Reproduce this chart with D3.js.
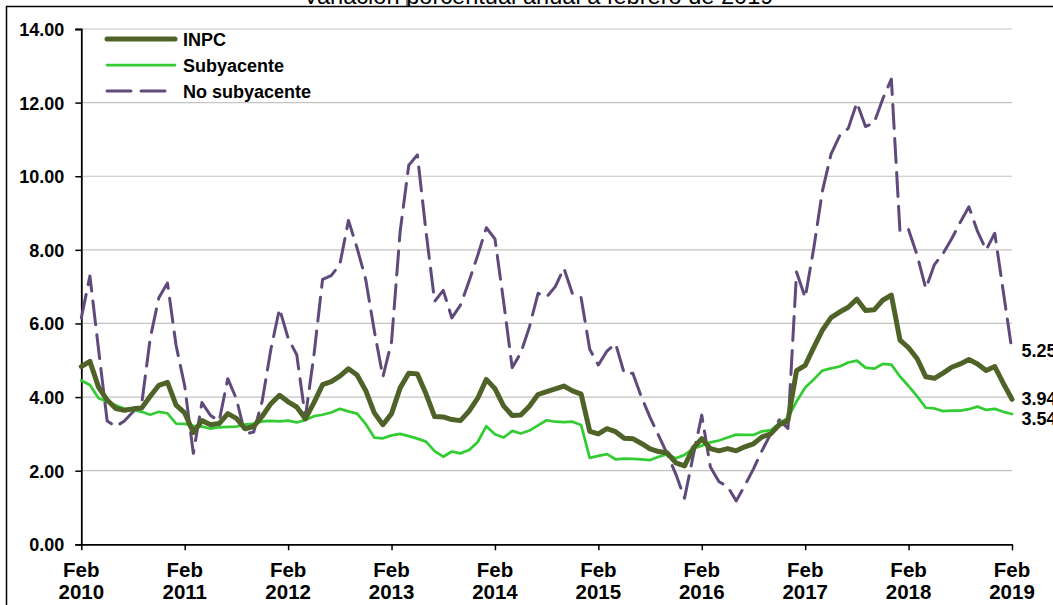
<!DOCTYPE html>
<html>
<head>
<meta charset="utf-8">
<script src="https://cdn.jsdelivr.net/npm/d3@7"></script>
<style>
  html, body { margin: 0; padding: 0; background: #fff; }
  svg { display: block; font-family: "Liberation Sans", Arial, sans-serif; }
</style>
</head>
<body>
<svg id="chart" width="1053" height="605"></svg>
<script>
// ---------------- DATA (Feb 2010 .. Feb 2019, monthly) ----------------
const startMonth = "2010-02";
const endMonth = "2019-02";
const seriesNames = ["INPC", "Subyacente", "No subyacente"];
const titleText = "Variación porcentual anual a febrero de 2019";
const yTicks = [0, 2, 4, 6, 8, 10, 12, 14];
const tickMonthLabel = "Feb";
const tickYears = ["2010","2011","2012","2013","2014","2015","2016","2017","2018","2019"];

const inpc = [
  4.83, 4.97, 4.27, 3.92, 3.69, 3.64, 3.68, 3.70, 4.02, 4.32, 4.40,
  3.78, 3.57, 3.04, 3.36, 3.25, 3.28, 3.55, 3.42, 3.14, 3.20, 3.48, 3.82,
  4.05, 3.87, 3.73, 3.41, 3.85, 4.34, 4.42, 4.57, 4.77, 4.60, 4.18, 3.57,
  3.25, 3.55, 4.25, 4.65, 4.63, 4.09, 3.47, 3.46, 3.39, 3.36, 3.62, 3.97,
  4.48, 4.23, 3.76, 3.50, 3.51, 3.75, 4.07, 4.15, 4.22, 4.30, 4.17, 4.08,
  3.07, 3.00, 3.14, 3.06, 2.88, 2.87, 2.74, 2.59, 2.52, 2.48, 2.21, 2.13,
  2.61, 2.87, 2.60, 2.54, 2.60, 2.54, 2.65, 2.73, 2.92, 3.00, 3.25, 3.36,
  4.72, 4.86, 5.35, 5.82, 6.16, 6.31, 6.44, 6.66, 6.35, 6.37, 6.63, 6.77,
  5.55, 5.34, 5.04, 4.55, 4.51, 4.65, 4.81, 4.90, 5.02, 4.90, 4.72, 4.83,
  4.37, 3.94
];
const subyacente = [
  4.45, 4.33, 3.97, 3.88, 3.78, 3.68, 3.66, 3.60, 3.52, 3.60, 3.56,
  3.28, 3.27, 3.22, 3.20, 3.14, 3.18, 3.19, 3.20, 3.25, 3.28, 3.34, 3.35,
  3.34, 3.36, 3.31, 3.38, 3.48, 3.52, 3.58, 3.68, 3.61, 3.55, 3.27, 2.90,
  2.88, 2.96, 3.00, 2.94, 2.87, 2.79, 2.53, 2.38, 2.52, 2.47, 2.56, 2.78,
  3.21, 2.99, 2.90, 3.08, 3.01, 3.09, 3.23, 3.37, 3.33, 3.32, 3.33, 3.24,
  2.35, 2.40, 2.45, 2.31, 2.33, 2.32, 2.31, 2.29, 2.38, 2.45, 2.34, 2.43,
  2.60, 2.68, 2.77, 2.82, 2.90, 2.98, 2.97, 2.97, 3.07, 3.10, 3.29, 3.43,
  3.88, 4.26, 4.48, 4.72, 4.78, 4.83, 4.94, 4.99, 4.80, 4.77, 4.90, 4.88,
  4.56, 4.30, 4.02, 3.71, 3.69, 3.62, 3.63, 3.63, 3.67, 3.74, 3.65, 3.68,
  3.60, 3.54
];
const noSubyacente = [
  6.15, 7.29, 5.30, 3.35, 3.20, 3.35, 3.60, 3.80, 5.60, 6.70, 7.10,
  5.40, 4.30, 2.47, 3.85, 3.50, 3.35, 4.50, 3.95, 3.00, 3.05, 3.90, 5.30,
  6.40, 5.60, 5.15, 3.45, 5.15, 7.20, 7.30, 7.60, 8.80, 8.05, 7.20, 5.80,
  4.55, 5.50, 8.50, 10.30, 10.58, 8.50, 6.60, 6.90, 6.15, 6.50, 7.15, 7.85,
  8.60, 8.30, 6.60, 4.80, 5.20, 5.90, 6.82, 6.72, 7.00, 7.50, 6.80, 6.70,
  5.30, 4.87, 5.25, 5.45, 4.65, 4.65, 4.00, 3.45, 2.95, 2.45, 1.90, 1.25,
  2.40, 3.51, 2.10, 1.70, 1.57, 1.18, 1.60, 2.05, 2.55, 3.00, 3.38, 3.15,
  7.40, 6.70, 8.05, 9.60, 10.60, 11.10, 11.30, 12.00, 11.35, 11.45, 12.10, 12.64,
  8.50, 8.55, 7.85, 6.95, 7.60, 7.90, 8.30, 8.75, 9.17, 8.50, 8.00, 8.45,
  6.85, 5.25
];

// ---------------- SETUP ----------------
const svg = d3.select("#chart");
const W = 1053, H = 605;
const plot = { left: 81.3, right: 1012, top: 29, bottom: 544.3 };
const colors = ["#4f6228", "#33cc33", "#604a7b"];
const widths = [5, 2.75, 3];
const dashes = [null, null, "24,10"];

const parse = d3.timeParse("%Y-%m");
const months = d3.timeMonth.range(parse(startMonth), d3.timeMonth.offset(parse(endMonth), 1));
const key = d3.timeFormat("%Y-%m");

const x = d3.scalePoint().domain(months.map(key)).range([plot.left, plot.right]);
const y = d3.scaleLinear().domain([0, 14]).range([plot.bottom, plot.top]);

// outer frame
svg.append("path")
  .attr("d", `M6.5,${H} V6.5 H${W}`)
  .attr("fill", "none").attr("stroke", "#000").attr("stroke-width", 1.5);

// title (clipped at the frame)
svg.append("clipPath").attr("id", "titleClip")
  .append("rect").attr("x", 0).attr("y", 0).attr("width", W).attr("height", 6);
svg.append("text")
  .attr("clip-path", "url(#titleClip)")
  .attr("x", 303).attr("y", 4)
  .attr("font-size", 23.6)
  .attr("fill", "#000")
  .text(titleText);
svg.append("line").attr("x1", 407).attr("x2", 407).attr("y1", 0).attr("y2", 6)
  .attr("stroke", "#000").attr("stroke-width", 1);

// gridlines
svg.append("g").selectAll("line")
  .data(yTicks.filter(d => d > 0))
  .join("line")
  .attr("x1", plot.left).attr("x2", plot.right)
  .attr("y1", d => y(d)).attr("y2", d => y(d))
  .attr("stroke", "#c4c4c4").attr("stroke-width", 1.2);

// y axis
const yAxis = svg.append("g")
  .attr("transform", `translate(${plot.left},0)`)
  .call(d3.axisLeft(y).tickValues(yTicks).tickFormat(d3.format(".2f")).tickSize(6).tickPadding(11));
yAxis.select(".domain").attr("stroke", "#000").attr("stroke-width", 1.8);
yAxis.selectAll(".tick line").attr("stroke", "#000").attr("stroke-width", 1.5);
yAxis.selectAll(".tick text")
  .attr("font-family", "'Liberation Sans', Arial, sans-serif")
  .attr("font-size", 18).attr("font-weight", "bold").attr("fill", "#000")
  .attr("dy", "0.36em");

// x axis
const febMonths = months.filter(m => m.getMonth() === 1).map(key);
const xAxis = svg.append("g")
  .attr("transform", `translate(0,${plot.bottom})`)
  .call(d3.axisBottom(x).tickValues(febMonths).tickFormat("").tickSize(6).tickSizeOuter(0));
xAxis.select(".domain").attr("stroke", "#000").attr("stroke-width", 1.8);
xAxis.selectAll(".tick line").attr("stroke", "#000").attr("stroke-width", 1.5);

const xl = svg.append("g").selectAll("g")
  .data(febMonths)
  .join("g")
  .attr("transform", d => `translate(${x(d)},0)`)
  .attr("font-size", 20.5).attr("font-weight", "bold").attr("text-anchor", "middle");
xl.append("text").attr("y", 576.5).text(tickMonthLabel);
xl.append("text").attr("y", 599).text((d, i) => tickYears[i]);

// series lines
const allSeries = [inpc, subyacente, noSubyacente];
const line = d3.line()
  .x((d, i) => x(key(months[i])))
  .y(d => y(d));

const drawOrder = [2, 1, 0];
drawOrder.forEach(s => {
  svg.append("path")
    .datum(allSeries[s])
    .attr("d", line)
    .attr("fill", "none")
    .attr("stroke", colors[s])
    .attr("stroke-width", widths[s])
    .attr("stroke-linejoin", "round")
    .attr("stroke-linecap", s === 2 ? "round" : "round")
    .attr("stroke-dasharray", dashes[s]);
});

// end labels
const lastIdx = months.length - 1;
const endLabels = allSeries.map((s, i) => ({ v: s[lastIdx], y: y(s[lastIdx]) + 6 }))
  .sort((a, b) => a.y - b.y);
for (let i = 1; i < endLabels.length; i++) {
  if (endLabels[i].y - endLabels[i - 1].y < 20) endLabels[i].y = endLabels[i - 1].y + 20;
}
svg.append("g").selectAll("text")
  .data(endLabels)
  .join("text")
  .attr("x", plot.right + 9.5)
  .attr("y", d => d.y)
  .attr("font-size", 18).attr("font-weight", "bold")
  .text(d => d3.format(".2f")(d.v));

// legend
const legendY = [39, 65, 91];
const lg = svg.append("g").selectAll("g")
  .data(seriesNames)
  .join("g")
  .attr("transform", (d, i) => `translate(0,${legendY[i]})`);
lg.append("line")
  .attr("x1", 107).attr("x2", (d, i) => i === 2 ? 166 : 175)
  .attr("stroke", (d, i) => colors[i])
  .attr("stroke-width", (d, i) => widths[i])
  .attr("stroke-linecap", "round")
  .attr("stroke-dasharray", (d, i) => dashes[i]);
lg.append("text")
  .attr("x", 183).attr("y", 6.8)
  .attr("font-size", 18).attr("font-weight", "bold")
  .text(d => d);
</script>
</body>
</html>
